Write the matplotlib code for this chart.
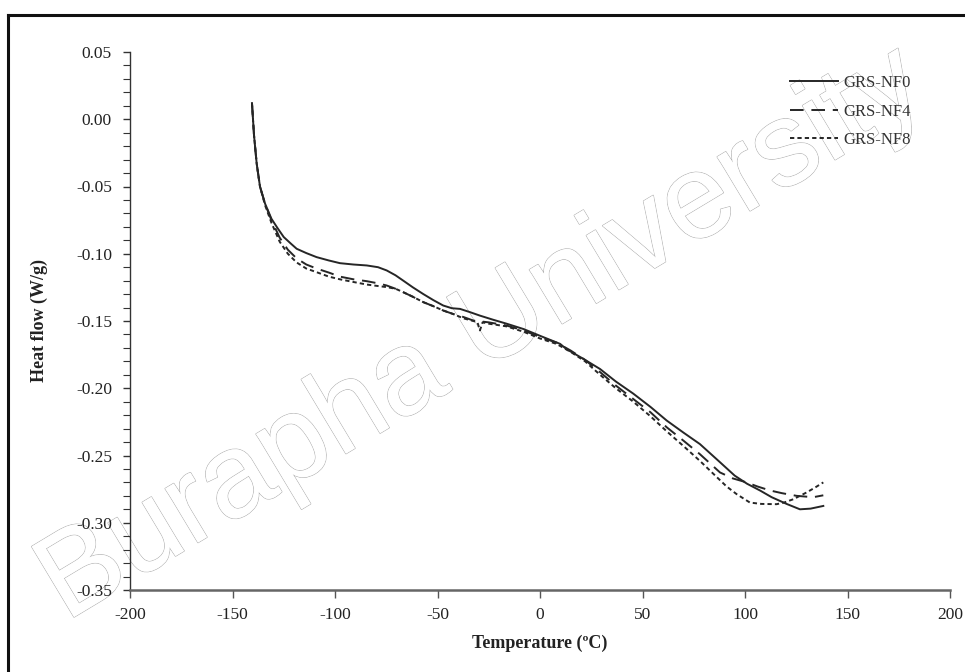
import matplotlib
matplotlib.use("Agg")
import matplotlib.pyplot as plt
from matplotlib.lines import Line2D
import matplotlib.patheffects as pe

plt.rcParams['font.family'] = ['Liberation Serif', 'DejaVu Serif']

# ---- data ----
t_nf0 = [-140.5, -139.5, -138.2, -136.6, -134.1, -131, -128, -125, -121.5, -118.7, -114, -109,
         -103, -97.6, -91, -84.5, -79, -74.8, -70.5, -66.7, -62, -56.9, -52, -47.2, -43, -39,
         -34, -29.3, -23, -16.3, -8, 0, 9.8, 13, 21, 29.3, 37, 45.5, 54, 61.8, 70, 78, 87.8,
         95, 101, 107.3, 113, 120.3, 126.8, 132, 138.2]
v_nf0 = [0.012, -0.012, -0.033, -0.050, -0.0628, -0.074, -0.081, -0.0876, -0.0925, -0.0963,
         -0.0995, -0.1025, -0.105, -0.107, -0.108, -0.1087, -0.110, -0.1124, -0.116, -0.120,
         -0.125, -0.130, -0.1345, -0.1385, -0.1405, -0.141, -0.1435, -0.146, -0.149, -0.152,
         -0.156, -0.161, -0.167, -0.171, -0.178, -0.1857, -0.195, -0.204, -0.214, -0.224,
         -0.233, -0.2415, -0.255, -0.265, -0.271, -0.276, -0.281, -0.286, -0.290, -0.2895,
         -0.2875]

t_nf4 = [-140.5, -139.5, -138.2, -136.6, -134.1, -131, -127, -123, -118.7, -114, -109, -103,
         -97.6, -91, -84.5, -79, -74.8, -70.5, -66.7, -62, -56.9, -52, -47.2, -42, -37.4, -32.5,
         -25, -16.3, -8, 0, 8, 15, 22, 29.3, 37, 45.5, 54, 61.8, 70, 78, 87.8, 94, 100.8, 106,
         112.2, 118, 125.2, 133.3, 138.2]
v_nf4 = [0.012, -0.012, -0.033, -0.050, -0.063, -0.075, -0.088, -0.097, -0.1035, -0.108,
         -0.111, -0.114, -0.117, -0.119, -0.1204, -0.122, -0.1236, -0.126, -0.1286, -0.132,
         -0.136, -0.139, -0.1422, -0.145, -0.147, -0.1497, -0.151, -0.1534, -0.157, -0.162,
         -0.166, -0.172, -0.179, -0.188, -0.198, -0.208, -0.218, -0.229, -0.239, -0.249,
         -0.2626, -0.267, -0.270, -0.273, -0.276, -0.278, -0.280, -0.281, -0.2796]

t_nf8 = [-140.5, -139.5, -138.2, -136.6, -134.1, -131, -127, -123, -118.7, -114, -109, -103,
         -97.6, -91, -84.5, -79, -74.8, -70.5, -66.7, -62, -56.9, -52, -47.2, -42, -37.4, -32.5,
         -30.5, -29.3, -28, -25, -16.3, -8, 0, 8, 15, 22, 29.3, 37, 45.5, 54, 61.8, 70, 78,
         86.2, 91, 95.9, 102.4, 108, 115.4, 119, 123.6, 130, 134, 138.2]
v_nf8 = [0.012, -0.012, -0.033, -0.050, -0.064, -0.077, -0.091, -0.100, -0.1065, -0.111,
         -0.1137, -0.117, -0.119, -0.121, -0.1229, -0.124, -0.1248, -0.126, -0.1286, -0.132,
         -0.136, -0.139, -0.1422, -0.145, -0.148, -0.150, -0.151, -0.157, -0.151, -0.152,
         -0.154, -0.158, -0.163, -0.167, -0.173, -0.180, -0.190, -0.200, -0.210, -0.221,
         -0.232, -0.243, -0.254, -0.266, -0.273, -0.2787, -0.285, -0.286, -0.2862, -0.285,
         -0.2825, -0.2775, -0.274, -0.270]

series_labels = ['GRS-NF0', 'GRS-NF4', 'GRS-NF8']
x_ticks = [-200, -150, -100, -50, 0, 50, 100, 150, 200]
y_ticks = [0.05, 0.00, -0.05, -0.10, -0.15, -0.20, -0.25, -0.30, -0.35]

# ---- figure ----
fig = plt.figure(figsize=(9.65, 6.72), dpi=100)
ax = fig.add_axes([130/965, 1-590/672, 820/965, (590-52)/672])

lc = '#262626'
ax.plot(t_nf0, v_nf0, color=lc, lw=1.4, ls='-', label=series_labels[0])
ax.plot(t_nf4, v_nf4, color=lc, lw=1.4, ls=(0, (7, 4)), label=series_labels[1])
ax.plot(t_nf8, v_nf8, color=lc, lw=1.4, ls=(0, (2.2, 1.6)), label=series_labels[2])

ax.set_xlim(-200, 200)
ax.set_ylim(-0.35, 0.05)
ax.set_xticks(x_ticks)
ax.set_xticklabels([f'{v:d}' for v in x_ticks])
ax.set_yticks(y_ticks)
ax.set_yticklabels([f'{v:.2f}' if abs(v) > 1e-9 else '0.00' for v in y_ticks])
ax.set_yticks([v/100 for v in range(-35, 6)], minor=True)

for s in ['top', 'right']:
    ax.spines[s].set_visible(False)
ax.spines['left'].set_color('#333333')
ax.spines['left'].set_linewidth(1.0)
ax.spines['bottom'].set_color('#666666')
ax.spines['bottom'].set_linewidth(1.8)

ax.tick_params(axis='y', which='major', direction='out', length=5, width=1, color='#333333',
               labelsize=12.5, pad=8, labelcolor='#222222')
ax.tick_params(axis='y', which='minor', direction='out', length=5, width=0.8, color='#333333')
ax.tick_params(axis='x', which='major', direction='out', length=6, width=1, color='#555555',
               labelsize=12.5, pad=6, labelcolor='#222222')

ax.set_xlabel('Temperature (ºC)', fontsize=13, fontweight='bold', labelpad=9, color='#222222')
ax.set_ylabel('Heat flow (W/g)', fontsize=13, fontweight='bold', labelpad=20, color='#222222')

leg = ax.legend(loc='upper left', frameon=False, fontsize=12, handlelength=2.9,
                handletextpad=0.3, labelspacing=0.75, borderaxespad=0, borderpad=0,
                labelcolor='#333333')
leg.set_bbox_to_anchor(((790-130)/820, 1-(75-52)/538), transform=ax.transAxes)

# page frame (scan border)
fig.add_artist(Line2D([8/965, 8/965], [0, 1-15/672], transform=fig.transFigure,
                      color='#111111', lw=2.2))
fig.add_artist(Line2D([8/965, 1], [1-15/672, 1-15/672], transform=fig.transFigure,
                      color='#111111', lw=2.2))

# watermark
fig.text(0.50, 0.50, 'Burapha University', fontsize=86, rotation=31,
         ha='center', va='center', color='white', family='Liberation Sans',
         path_effects=[pe.withStroke(linewidth=1.0, foreground='#b0b0b0'), pe.Normal()],
         zorder=0.5)
ax.set_zorder(1)
ax.patch.set_alpha(0)

fig.savefig('out.png', dpi=100)
